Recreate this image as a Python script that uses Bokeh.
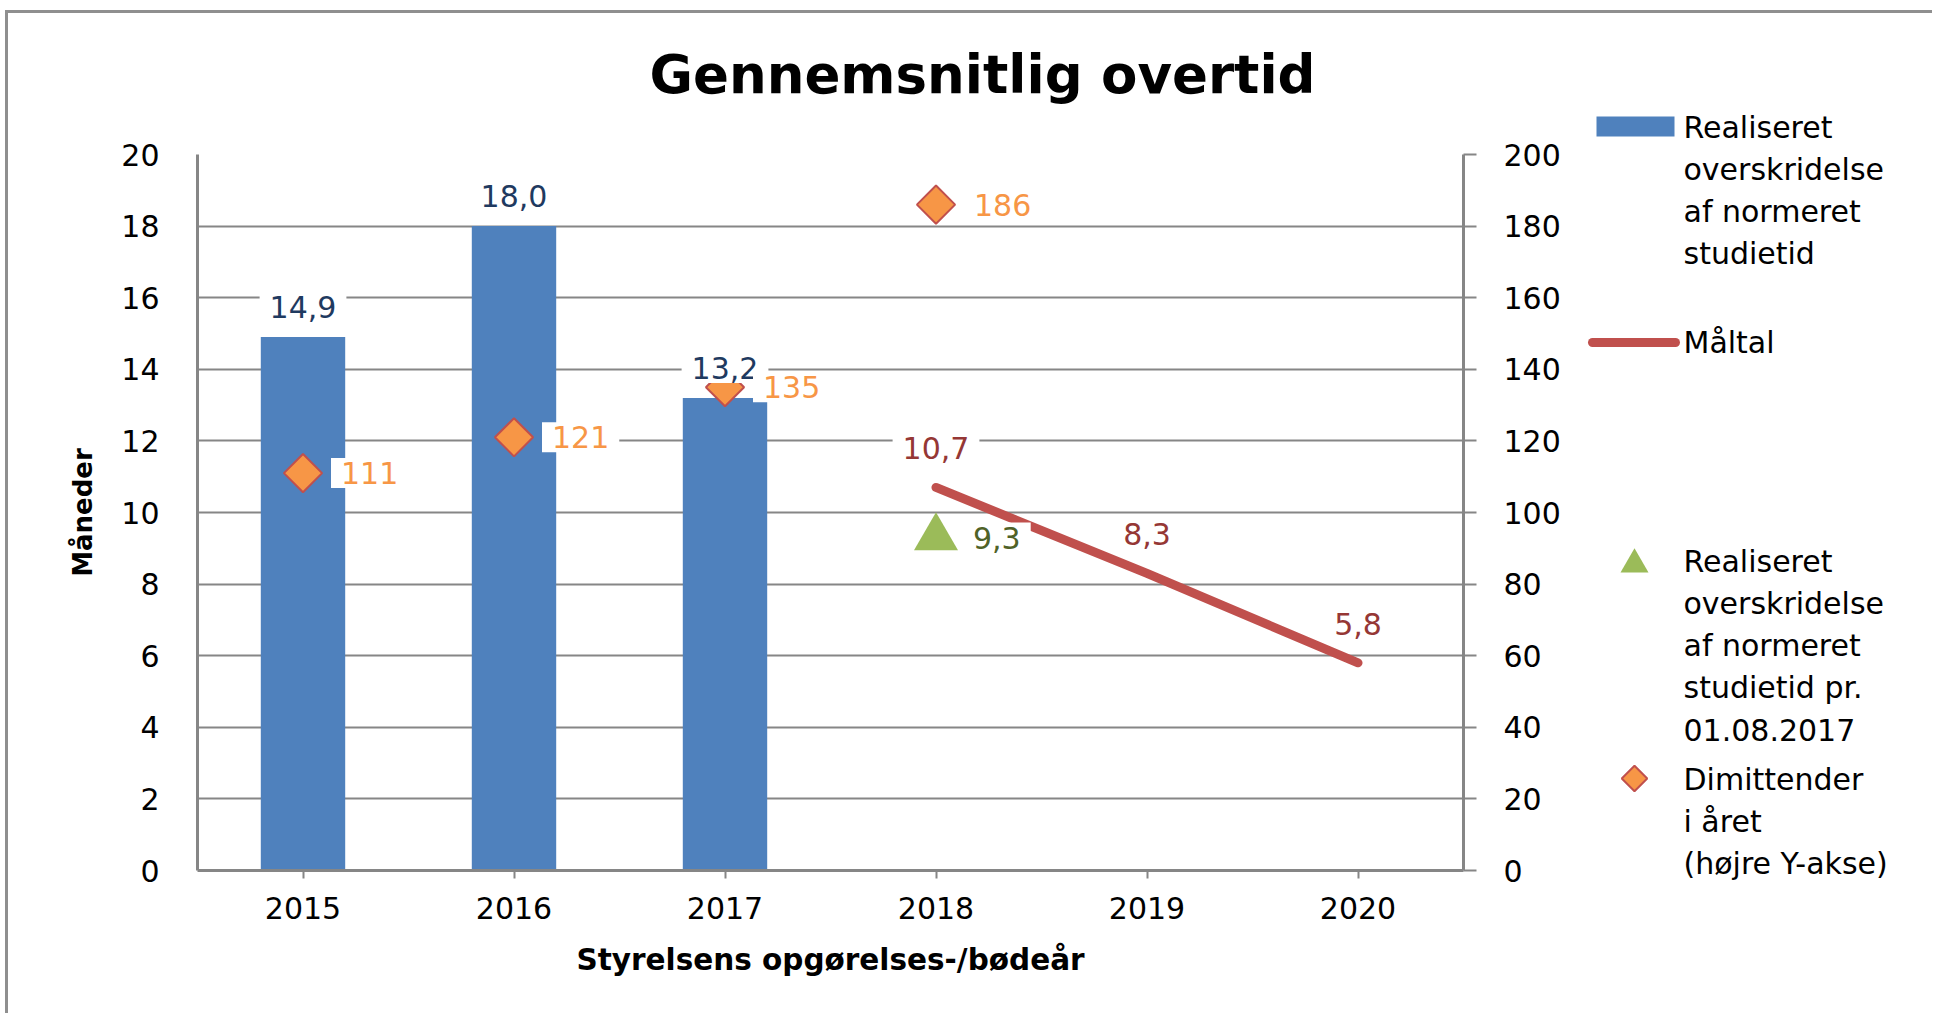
import math
from bokeh.plotting import figure
from bokeh.models import Range1d, FactorRange, LinearAxis, FixedTicker
from bokeh.layouts import row, column
from bokeh.embed import file_html
from bokeh.resources import INLINE
from bokeh.core.properties import value

# ---------------- data ----------------
years = ["2015", "2016", "2017", "2018", "2019", "2020"]
bar_years = ["2015", "2016", "2017"]
bar_vals = [14.9, 18.0, 13.2]
target_years = ["2018", "2019", "2020"]
target_vals = [10.7, 8.3, 5.8]
actual_years = ["2018"]
actual_vals = [9.3]
grad_years = ["2015", "2016", "2017", "2018"]
grad_vals = [111, 121, 135, 186]
left_ticks = [0, 2, 4, 6, 8, 10, 12, 14, 16, 18, 20]
right_ticks = [0, 20, 40, 60, 80, 100, 120, 140, 160, 180, 200]

title_text = "Gennemsnitlig overtid"
y_label = "Måneder"
x_label = "Styrelsens opgørelses-/bødeår"
legend_bar = ["Realiseret", "overskridelse", "af normeret", "studietid"]
legend_line = ["Måltal"]
legend_tri = ["Realiseret", "overskridelse", "af normeret", "studietid pr.", "01.08.2017"]
legend_dia = ["Dimittender", "i året", "(højre Y-akse)"]


def fmt1(v):
    return f"{v:.1f}".replace(".", ",")


# ---------------- style ----------------
FONT = "DejaVu Sans"
GRID = "#868686"
BAR = "#4F81BD"
LINE = "#C0504D"
TRI = "#9BBB59"
DIA = "#F79646"
DIA_EDGE = "#C0504D"
TXT_SIZE = "30px"
BORDER = "#8F8F8F"

# page geometry (page px)
PX0, PY0 = 8, 13          # where the chart canvas starts (after css margin+border)
TOP_H = 95
H = 905
MAIN_W = 1567
LEG_W = 357
RY0 = PY0 + TOP_H         # page y where the main row starts
FR_L, FR_R, FR_T, FR_B = 197, 1463, 154, 870


def canvas(w, h, x0, y0):
    f = figure(width=w, height=h, x_range=Range1d(x0, x0 + w), y_range=Range1d(y0 + h, y0),
               output_backend="svg", toolbar_location=None, min_border=0,
               x_axis_type=None, y_axis_type=None)
    f.outline_line_color = None
    f.xgrid.visible = False
    f.ygrid.visible = False
    return f


# ---------------- title strip ----------------
top = canvas(MAIN_W + LEG_W, TOP_H, PX0, PY0)
top.text(x=[982], y=[74], text=[title_text], text_font=value(FONT), text_font_size="53px",
         text_font_style="bold", text_align="center", text_baseline="middle",
         text_color="black")

# ---------------- main chart ----------------
main = figure(width=MAIN_W, height=H,
              x_range=FactorRange(*years), y_range=Range1d(0, 20),
              output_backend="svg", toolbar_location=None,
              min_border_left=FR_L - PX0, min_border_right=PX0 + MAIN_W - FR_R,
              min_border_top=FR_T - RY0, min_border_bottom=RY0 + H - FR_B)
main.outline_line_color = None
main.extra_y_ranges = {"right": Range1d(0, 200)}

xa = main.xaxis[0]
xa.axis_label = x_label
xa.axis_label_text_font = FONT
xa.axis_label_text_font_style = "bold"
xa.axis_label_text_font_size = "29.5px"
xa.axis_label_text_color = "black"
xa.axis_label_standoff = 21
xa.major_label_text_font = FONT
xa.major_label_text_font_size = TXT_SIZE
xa.major_label_text_color = "black"
xa.major_label_standoff = 18
xa.major_tick_out = 8
xa.major_tick_in = 0
xa.major_tick_line_color = GRID
xa.major_tick_line_width = 2
xa.axis_line_color = GRID
xa.axis_line_width = 3

ya = main.yaxis[0]
ya.ticker = FixedTicker(ticks=left_ticks)
ya.axis_label = y_label
ya.axis_label_text_font = FONT
ya.axis_label_text_font_style = "bold"
ya.axis_label_text_font_size = "26px"
ya.axis_label_text_color = "black"
ya.axis_label_standoff = 20
ya.major_label_text_font = FONT
ya.major_label_text_font_size = TXT_SIZE
ya.major_label_text_color = "black"
ya.major_label_standoff = 38
ya.major_tick_out = 0
ya.major_tick_in = 0
ya.minor_tick_line_color = None
ya.axis_line_color = GRID
ya.axis_line_width = 3

ra = LinearAxis(y_range_name="right", ticker=FixedTicker(ticks=right_ticks))
ra.major_label_text_font = FONT
ra.major_label_text_font_size = TXT_SIZE
ra.major_label_text_color = "black"
ra.major_label_standoff = 27
ra.major_tick_out = 13
ra.major_tick_in = 0
ra.major_tick_line_color = GRID
ra.major_tick_line_width = 2
ra.minor_tick_line_color = None
ra.axis_line_color = GRID
ra.axis_line_width = 3
main.add_layout(ra, "right")

main.xgrid.visible = False
main.ygrid.ticker = FixedTicker(ticks=left_ticks)
main.ygrid.grid_line_color = GRID
main.ygrid.grid_line_width = 2

# marks
main.vbar(x=bar_years, top=bar_vals, width=0.4, fill_color=BAR, line_color=None)
main.line(x=target_years, y=target_vals, line_color=LINE, line_width=9, line_cap="round")
main.scatter(x=actual_years, y=actual_vals, marker="triangle", size=44,
             fill_color=TRI, line_color=None)
main.scatter(x=grad_years, y=grad_vals, y_range_name="right", marker="square",
             angle=math.pi / 4, size=27, fill_color=DIA, line_color=DIA_EDGE, line_width=2)


def labels(xs, ys, texts, color, align, xo, yo, yr="default"):
    main.text(x=xs, y=ys, text=texts, y_range_name=yr,
              text_color=color, text_font=value(FONT), text_font_size=TXT_SIZE,
              text_align=align, text_baseline="middle", x_offset=xo, y_offset=yo,
              background_fill_color="white", padding=(10, 4))


labels(bar_years, bar_vals, [fmt1(v) for v in bar_vals], "#1F3A60", "center", 0, -30)
labels(target_years, target_vals, [fmt1(v) for v in target_vals], "#953735", "center", 0, -39)
labels(actual_years, actual_vals, [fmt1(v) for v in actual_vals], "#4F6228", "left", 27, 0)
labels(grad_years, grad_vals, [str(v) for v in grad_vals], DIA, "left", 28, 0, "right")

# ---------------- legend canvas (page-pixel coordinates) ----------------
leg = canvas(LEG_W, H, PX0 + MAIN_W, RY0)

LX = 1683
LH = 42
leg.quad(left=[1596], right=[1674], top=[116], bottom=[136], fill_color=BAR, line_color=None)
leg.line(x=[1592, 1675], y=[342, 342], line_color=LINE, line_width=9, line_cap="round")
leg.scatter(x=[1634], y=[564], marker="triangle", size=28, fill_color=TRI, line_color=None)
leg.scatter(x=[1634], y=[778], marker="square", angle=math.pi / 4, size=18,
            fill_color=DIA, line_color=DIA_EDGE, line_width=2)


def legtext(lines, y0):
    leg.text(x=[LX] * len(lines), y=[y0 + i * LH for i in range(len(lines))], text=lines,
             text_font=value(FONT), text_font_size=TXT_SIZE, text_align="left",
             text_baseline="middle", text_color="black")


legtext(legend_bar, 127)
legtext(legend_line, 342)
legtext(legend_tri, 561)
legtext(legend_dia, 779)

layout = column(top, row(column(main), column(leg)),
                styles={"margin-left": "5px", "margin-top": "10px",
                        "border-left": f"3px solid {BORDER}",
                        "border-top": f"3px solid {BORDER}"})
open("out.html", "w").write(file_html(layout, INLINE))
